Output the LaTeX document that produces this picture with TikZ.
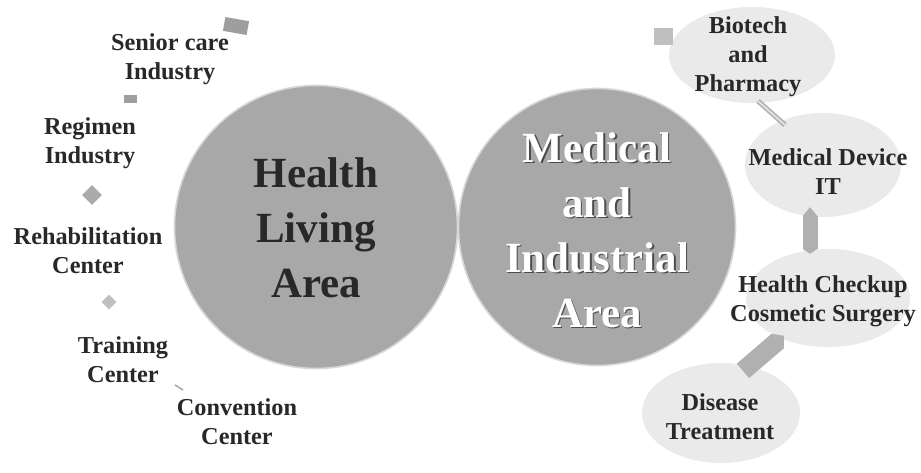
\documentclass[tikz,border=0pt]{standalone}
\usepackage{fontspec}
\setmainfont{Liberation Serif}
\usetikzlibrary{shapes.geometric,arrows.meta,calc}
\definecolor{discfill}{RGB}{168,168,168}
\definecolor{discrim}{RGB}{215,215,215}
\definecolor{blobfill}{RGB}{234,234,234}
\definecolor{barfill}{RGB}{176,176,176}
\definecolor{inkc}{RGB}{40,40,40}
\begin{document}
\begin{tikzpicture}[x=1pt,y=-1pt,
  disc/.style={circle, fill=discfill, draw=discrim, line width=1.6pt, minimum size=#1, inner sep=0pt},
  bigtxt/.style={font=\bfseries\fontsize{43}{55}\selectfont, align=center, text=inkc},
  lbl/.style={font=\bfseries\fontsize{24.3}{29}\selectfont, align=center, text=inkc},
  blob/.style={ellipse, fill=blobfill, inner sep=0pt, minimum width=#1},
  deco/.style={fill=barfill, draw=none, inner sep=0pt},
  barline/.style={draw=barfill, line width=15pt}
]
\useasboundingbox (0,0) rectangle (921,473);
\fill[white] (0,0) rectangle (921,473);

% main discs
\node[disc=283pt] (hl) at (316,227) {};
\node[disc=277pt] (mi) at (597,227) {};
\node[bigtxt] (hltxt) at (316,228) {Health\\Living\\Area};
\node[bigtxt, text=black!70] (mishadow) at (598.5,231.5) {Medical\\and\\Industrial\\Area};
\node[bigtxt, text=white] (mitxt) at (597,230) {Medical\\and\\Industrial\\Area};

% left labels
\node[lbl] (senior) at (170,59) {Senior care\\Industry};
\node[lbl] (regimen) at (90,143) {Regimen\\Industry};
\node[lbl] (rehab) at (88,251) {Rehabilitation\\Center};
\node[lbl] (training) at (123,360) {Training\\Center};
\node[lbl] (conv) at (237,422) {Convention\\Center};

% left decorative markers
\node[deco, fill=black!38, minimum width=24pt, minimum height=14pt, rotate=-10] (m1) at (236,26) {};
\node[deco, fill=black!38, minimum width=13pt, minimum height=8pt] (m2) at (130,99) {};
\node[deco, fill=black!33, diamond, minimum width=20pt, minimum height=20pt] (m3) at (92,195) {};
\node[deco, fill=black!25, diamond, minimum width=15pt, minimum height=15pt] (m4) at (109,302) {};
\coordinate (m5a) at (175,385);
\coordinate (m5b) at (183,390);
\draw[black!35, line width=1.5pt] (m5a) -- (m5b);

% right blobs
\node[blob=166pt, minimum height=96pt] (bio) at (752,55) {};
\node[blob=156pt, minimum height=104pt] (dev) at (823,165) {};
\node[blob=164pt, minimum height=98pt] (chk) at (828,298) {};
\node[blob=158pt, minimum height=100pt] (dis) at (721,413) {};
\node[deco, fill=black!25, minimum width=19pt, minimum height=17pt] (m6) at (663,37) {};

% right connectors
\coordinate (c1a) at (758,101);
\coordinate (c1b) at (785,125);
\draw[black!30, line width=5pt] (c1a) -- (c1b);
\draw[white!90!black, line width=1.6pt] (c1a) -- (c1b);
\draw[barline, {Triangle[width=15pt,length=5pt,line width=0pt]}-{Triangle[width=15pt,length=9pt,line width=0pt]}] ($(chk.north)+(-18,5)$) -- ($(dev.south)+(-13,-10)$);
\draw[barline, line width=19pt, -{Triangle[width=19pt,length=8pt,line width=0pt]}] ($(dis.north)+(22,8)$) -- ($(chk.south west)+(14,3)$);

% right labels
\node[lbl] (biotxt) at (748,57) {Biotech\\and\\Pharmacy};
\node[lbl] (devtxt) at (828,172) {Medical Device\\IT};
\node[lbl] (chktxt) at (823,301) {Health Checkup\\Cosmetic Surgery};
\node[lbl] (distxt) at (720,417) {Disease\\Treatment};
\end{tikzpicture}
\end{document}
